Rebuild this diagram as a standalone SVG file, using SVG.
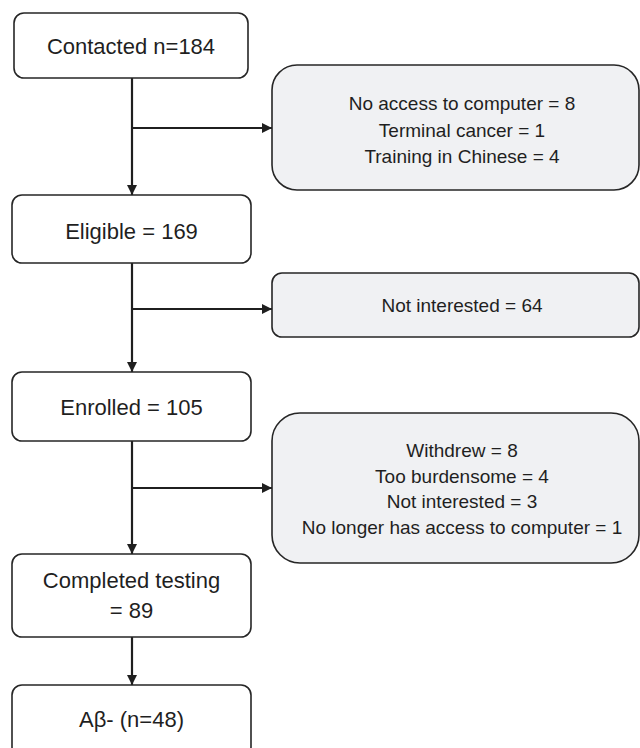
<svg xmlns="http://www.w3.org/2000/svg" width="640" height="748" viewBox="0 0 640 748">
<style>
.box{fill:#ffffff;stroke:#262626;stroke-width:1.6}
.gbox{fill:#f0f1f3;stroke:#262626;stroke-width:1.6}
.lt{font-family:"Liberation Sans",Arial,sans-serif;font-size:22px;fill:#1f1f1f;text-anchor:middle}
.rt{font-family:"Liberation Sans",Arial,sans-serif;font-size:19px;fill:#1f1f1f;text-anchor:middle}
.con{stroke:#1f1f1f;stroke-width:2.2;fill:none}
</style>
<defs>
<marker id="ah" markerWidth="12" markerHeight="12" refX="10" refY="5" orient="auto" markerUnits="userSpaceOnUse">
<path d="M0,0 L10,5 L0,10 Z" fill="#1f1f1f"/>
</marker>
</defs>
<rect width="640" height="748" fill="#ffffff"/>
<g id="connectors">
<line class="con" x1="132" y1="78" x2="132" y2="195" marker-end="url(#ah)"/>
<line class="con" x1="132" y1="128" x2="272" y2="128" marker-end="url(#ah)"/>
<line class="con" x1="132" y1="263" x2="132" y2="372" marker-end="url(#ah)"/>
<line class="con" x1="132" y1="309" x2="272" y2="309" marker-end="url(#ah)"/>
<line class="con" x1="132" y1="441" x2="132" y2="554" marker-end="url(#ah)"/>
<line class="con" x1="132" y1="488" x2="272" y2="488" marker-end="url(#ah)"/>
<line class="con" x1="132" y1="637" x2="132" y2="685" marker-end="url(#ah)"/>
</g>
<g id="contacted">
<rect class="box" x="14" y="13" width="234" height="65" rx="10"/>
<text class="lt" x="131" y="54">Contacted n=184</text>
</g>
<g id="excluded1">
<rect class="gbox" x="272" y="65" width="367" height="125" rx="25"/>
<text class="rt" x="462" y="110">No access to computer = 8</text>
<text class="rt" x="462" y="137">Terminal cancer = 1</text>
<text class="rt" x="462" y="163">Training in Chinese = 4</text>
</g>
<g id="eligible">
<rect class="box" x="12" y="195" width="239" height="68" rx="10"/>
<text class="lt" x="131.5" y="239">Eligible = 169</text>
</g>
<g id="excluded2">
<rect class="gbox" x="272" y="273" width="367" height="64" rx="10"/>
<text class="rt" x="462" y="312">Not interested = 64</text>
</g>
<g id="enrolled">
<rect class="box" x="12" y="372" width="239" height="69" rx="10"/>
<text class="lt" x="131.5" y="415">Enrolled = 105</text>
</g>
<g id="excluded3">
<rect class="gbox" x="272" y="413" width="367" height="150" rx="28"/>
<text class="rt" x="462" y="457">Withdrew = 8</text>
<text class="rt" x="462" y="483">Too burdensome = 4</text>
<text class="rt" x="462" y="508">Not interested = 3</text>
<text class="rt" x="462" y="534">No longer has access to computer = 1</text>
</g>
<g id="completed">
<rect class="box" x="12" y="554" width="239" height="83" rx="10"/>
<text class="lt" x="131.5" y="588">Completed testing</text>
<text class="lt" x="131.5" y="618">= 89</text>
</g>
<g id="abneg">
<rect class="box" x="12" y="685" width="239" height="72" rx="10"/>
<text class="lt" x="131.5" y="727">Aβ- (n=48)</text>
</g>
</svg>
